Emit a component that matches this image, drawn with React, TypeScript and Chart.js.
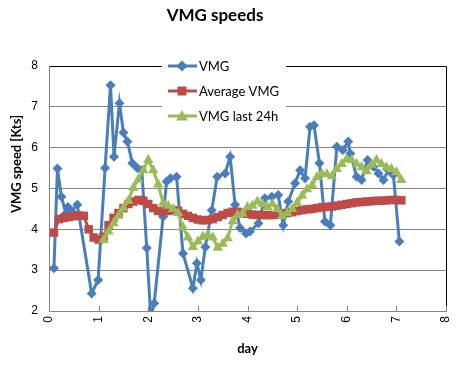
import React, { useEffect, useRef } from "react";
import { Chart, registerables } from "chart.js";

Chart.register(...registerables);

const TITLE = "VMG speeds";
const X_TITLE = "day";
const Y_TITLE = "VMG speed [Kts]";
const X_TICKS = [0, 1, 2, 3, 4, 5, 6, 7, 8];
const Y_TICKS = [2, 3, 4, 5, 6, 7, 8];

const SERIES_NAMES = ["VMG", "Average VMG", "VMG last 24h"];

const vmgDays = [
  0.10, 0.17, 0.25, 0.34, 0.38, 0.45, 0.57, 0.86, 0.99, 1.13, 1.24, 1.31, 1.42, 1.50, 1.58,
  1.68, 1.78, 1.87, 1.97, 2.05, 2.12, 2.30, 2.37, 2.45, 2.57, 2.70, 2.90, 2.98, 3.06, 3.15,
  3.28, 3.39, 3.55, 3.65, 3.75, 3.85, 3.97, 4.05, 4.22, 4.35, 4.49, 4.62, 4.72, 4.82, 4.96,
  5.06, 5.16, 5.26, 5.34, 5.45, 5.56, 5.67, 5.80, 5.92, 6.03, 6.07, 6.20, 6.30, 6.42, 6.54,
  6.64, 6.74, 6.84, 6.94, 7.06,
];
const vmgValues = [
  3.05, 5.49, 4.80, 4.39, 4.55, 4.45, 4.60, 2.43, 2.76, 5.50, 7.53, 5.78, 7.09, 6.37, 6.15,
  5.62, 5.50, 5.45, 3.54, 1.85, 2.19, 4.31, 5.17, 5.25, 5.29, 3.41, 2.56, 3.17, 2.76, 3.57,
  4.47, 5.29, 5.37, 5.78, 4.60, 4.03, 3.90, 3.95, 4.15, 4.76, 4.80, 4.84, 4.10, 4.68, 5.13,
  5.45, 5.25, 6.51, 6.55, 5.62, 4.19, 4.10, 6.02, 5.94, 6.15, 5.86, 5.29, 5.21, 5.70, 5.53,
  5.37, 5.21, 5.45, 5.33, 3.70,
];

const avgDays = [
  0.1, 0.2, 0.3, 0.4, 0.5, 0.6, 0.7, 0.8, 0.9, 1.0, 1.1, 1.2, 1.3, 1.4, 1.5, 1.6, 1.7, 1.8,
  1.9, 2.0, 2.1, 2.2, 2.3, 2.4, 2.5, 2.6, 2.7, 2.8, 2.9, 3.0, 3.1, 3.2, 3.3, 3.4, 3.5, 3.6,
  3.7, 3.8, 3.9, 4.0, 4.1, 4.2, 4.3, 4.4, 4.5, 4.6, 4.7, 4.8, 4.9, 5.0, 5.1, 5.2, 5.3, 5.4,
  5.5, 5.6, 5.7, 5.8, 5.9, 6.0, 6.1, 6.2, 6.3, 6.4, 6.5, 6.6, 6.7, 6.8, 6.9, 7.0, 7.1,
];
const avgValues = [
  3.92, 4.25, 4.28, 4.30, 4.32, 4.34, 4.33, 4.00, 3.80, 3.75, 3.82, 4.10, 4.28, 4.40, 4.52,
  4.62, 4.68, 4.72, 4.70, 4.62, 4.52, 4.45, 4.43, 4.45, 4.47, 4.45, 4.38, 4.33, 4.28, 4.24,
  4.22, 4.23, 4.25, 4.30, 4.35, 4.40, 4.43, 4.43, 4.40, 4.38, 4.36, 4.35, 4.35, 4.35, 4.35,
  4.36, 4.38, 4.40, 4.42, 4.45, 4.47, 4.49, 4.50, 4.52, 4.54, 4.55, 4.56, 4.58, 4.60, 4.62,
  4.64, 4.66, 4.67, 4.68, 4.69, 4.70, 4.70, 4.71, 4.72, 4.72, 4.71,
];

const last24Days = [
  1.1, 1.2, 1.3, 1.4, 1.5, 1.6, 1.7, 1.8, 1.9, 2.0, 2.1, 2.2, 2.3, 2.4, 2.5, 2.6, 2.7, 2.8,
  2.9, 3.0, 3.1, 3.2, 3.3, 3.4, 3.5, 3.6, 3.7, 3.8, 3.9, 4.0, 4.1, 4.2, 4.3, 4.4, 4.5, 4.6,
  4.7, 4.8, 4.9, 5.0, 5.1, 5.2, 5.3, 5.4, 5.5, 5.6, 5.7, 5.8, 5.9, 6.0, 6.1, 6.2, 6.3, 6.4,
  6.5, 6.6, 6.7, 6.8, 6.9, 7.0, 7.1,
];
const last24Values = [
  3.74, 3.95, 4.15, 4.33, 4.52, 4.70, 5.02, 5.22, 5.45, 5.70, 5.45, 5.10, 4.64, 4.58, 4.50,
  4.40, 4.05, 3.80, 3.57, 3.70, 3.82, 3.86, 3.80, 3.55, 3.65, 3.78, 4.20, 4.35, 4.38, 4.55,
  4.58, 4.68, 4.62, 4.55, 4.62, 4.50, 4.32, 4.40, 4.50, 4.65, 4.82, 4.98, 5.08, 5.28, 5.36,
  5.35, 5.30, 5.48, 5.60, 5.72, 5.70, 5.60, 5.52, 5.42, 5.58, 5.70, 5.60, 5.52, 5.48, 5.40,
  5.21,
];

const BLUE = "#4A7EBB";
const RED = "#BE4B48";
const GREEN = "#9BBB59";
const GRID = "#868686";

const toPoints = (xs: number[], ys: number[]) => xs.map((x, i) => ({ x, y: ys[i] }));

const decorPlugin = {
  id: "decor",
  beforeDatasetsDraw(chart: any) {
    const { ctx, chartArea: a, scales } = chart;
    ctx.save();
    ctx.lineWidth = 1;
    ctx.strokeStyle = "#000000";
    ctx.beginPath();
    ctx.moveTo(Math.round(a.left) + 0.5, Math.round(a.top) + 0.5);
    ctx.lineTo(Math.round(a.right) + 0.5, Math.round(a.top) + 0.5);
    ctx.lineTo(Math.round(a.right) + 0.5, Math.round(a.bottom) + 0.5);
    ctx.stroke();
    ctx.strokeStyle = GRID;
    ctx.beginPath();
    ctx.moveTo(Math.round(a.left) + 0.5, Math.round(a.top) + 0.5);
    ctx.lineTo(Math.round(a.left) + 0.5, Math.round(a.bottom) + 0.5);
    ctx.lineTo(Math.round(a.right) + 0.5, Math.round(a.bottom) + 0.5);
    ctx.stroke();
    const xs = scales.x;
    ctx.beginPath();
    X_TICKS.forEach((t) => {
      const px = Math.round(xs.getPixelForValue(t)) + 0.5;
      ctx.moveTo(px, a.bottom - 5);
      ctx.lineTo(px, a.bottom);
    });
    ctx.stroke();
    ctx.restore();
  },
  afterDraw(chart: any) {
    const { ctx, chartArea: a } = chart;
    ctx.save();
    ctx.fillStyle = "#000000";
    ctx.textAlign = "center";
    ctx.textBaseline = "middle";
    ctx.font = "bold 17px Lato";
    ctx.fillText(TITLE, 215, 16);
    ctx.font = "bold 13px Lato";
    ctx.fillText(X_TITLE, (a.left + a.right) / 2, 349);
    ctx.save();
    ctx.translate(17, 164);
    ctx.rotate(-Math.PI / 2);
    ctx.fillText(Y_TITLE, 0, 0);
    ctx.restore();

    ctx.fillStyle = "#FFFFFF";
    ctx.fillRect(162, 54, 124, 74);
    const rows = [
      { name: SERIES_NAMES[0], color: BLUE, style: "rectRot", y: 66 },
      { name: SERIES_NAMES[1], color: RED, style: "rect", y: 91 },
      { name: SERIES_NAMES[2], color: GREEN, style: "triangle", y: 116 },
    ];
    rows.forEach((r) => {
      ctx.strokeStyle = r.color;
      ctx.lineWidth = 3;
      ctx.beginPath();
      ctx.moveTo(168, r.y);
      ctx.lineTo(197, r.y);
      ctx.stroke();
      ctx.fillStyle = r.color;
      ctx.beginPath();
      if (r.style === "rectRot") {
        ctx.moveTo(182, r.y - 5.5);
        ctx.lineTo(187.5, r.y);
        ctx.lineTo(182, r.y + 5.5);
        ctx.lineTo(176.5, r.y);
        ctx.closePath();
      } else if (r.style === "rect") {
        ctx.rect(177.5, r.y - 4.5, 9, 9);
      } else {
        ctx.moveTo(182, r.y - 6);
        ctx.lineTo(188, r.y + 4.5);
        ctx.lineTo(176, r.y + 4.5);
        ctx.closePath();
      }
      ctx.fill();
      ctx.fillStyle = "#000000";
      ctx.textAlign = "left";
      ctx.textBaseline = "middle";
      ctx.font = "13px Lato";
      ctx.fillText(r.name, 199, r.y + 0.5);
    });
    ctx.restore();
  },
};

export default function App() {
  const ref = useRef<HTMLCanvasElement | null>(null);

  useEffect(() => {
    if (!ref.current) return;
    const chart = new Chart(ref.current, {
      type: "scatter",
      data: {
        datasets: [
          {
            label: SERIES_NAMES[0],
            data: toPoints(vmgDays, vmgValues),
            showLine: true,
            borderColor: BLUE,
            backgroundColor: BLUE,
            borderWidth: 3,
            pointStyle: "rectRot",
            pointRadius: 5,
            pointBorderWidth: 0,
            order: 3,
          },
          {
            label: SERIES_NAMES[1],
            data: toPoints(avgDays, avgValues),
            showLine: true,
            borderColor: RED,
            backgroundColor: RED,
            borderWidth: 3,
            pointStyle: "rect",
            pointRadius: 6,
            pointBorderWidth: 0,
            order: 2,
          },
          {
            label: SERIES_NAMES[2],
            data: toPoints(last24Days, last24Values),
            showLine: true,
            borderColor: GREEN,
            backgroundColor: GREEN,
            borderWidth: 3,
            pointStyle: "triangle",
            pointRadius: 6,
            pointBorderWidth: 0,
            order: 1,
          },
        ],
      },
      options: {
        responsive: false,
        animation: false,
        devicePixelRatio: 1,
        layout: { padding: { top: 66, right: 12, left: 0, bottom: 0 } },
        plugins: {
          legend: { display: false },
          title: { display: false },
          tooltip: { enabled: false },
        },
        scales: {
          x: {
            type: "linear",
            min: 0,
            max: 8,
            afterFit: (s: any) => {
              s.height = 59;
              s.paddingLeft = 0;
              s.paddingRight = 0;
            },
            afterBuildTicks: (s: any) => {
              s.ticks = X_TICKS.map((v) => ({ value: v }));
            },
            grid: { display: false, drawTicks: false },
            border: { display: false },
            ticks: {
              minRotation: 90,
              maxRotation: 90,
              padding: 5,
              color: "#000000",
              font: { family: "Liberation Sans", size: 12 },
            },
          },
          y: {
            type: "linear",
            min: 2,
            max: 8,
            afterFit: (s: any) => {
              s.width = 49;
              s.paddingTop = 0;
              s.paddingBottom = 0;
            },
            afterBuildTicks: (s: any) => {
              s.ticks = Y_TICKS.map((v) => ({ value: v }));
            },
            grid: { color: GRID, drawTicks: false, lineWidth: 1 },
            border: { display: false },
            ticks: {
              padding: 11,
              color: "#000000",
              font: { family: "Liberation Sans", size: 12 },
            },
          },
        },
      },
      plugins: [decorPlugin],
    });
    return () => chart.destroy();
  }, []);

  return (
    <div style={{ position: "absolute", left: 0, top: 0, width: 458, height: 370, background: "#fff" }}>
      <canvas ref={ref} width={458} height={370} style={{ display: "block" }} />
    </div>
  );
}
